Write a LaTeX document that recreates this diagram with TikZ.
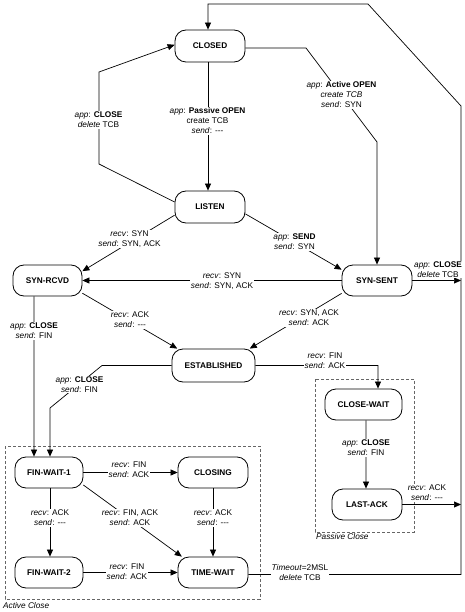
\documentclass[tikz,border=0pt]{standalone}
\usepackage{fontspec}
\setmainfont{Liberation Sans}
\usetikzlibrary{arrows.meta}
\begin{document}
\begin{tikzpicture}[x=1bp,y=-1bp,
  state/.style={draw, line width=0.8bp, rounded corners=11bp, font=\fontsize{8.3}{10}\selectfont\bfseries, inner sep=0pt, minimum width=70bp, minimum height=31bp},
  lbl/.style={fill=white, inner sep=0.8bp, align=center, font=\fontsize{8.3}{10}\selectfont},
  arr/.style={line width=0.7bp, -{Triangle[length=7bp,width=6bp]}},
  ln/.style={line width=0.7bp},
  grp/.style={draw=black!60, line width=0.6bp, dash pattern=on 3bp off 2bp},
  grpcaption/.style={font=\fontsize{8.3}{10}\selectfont\itshape, anchor=west, inner sep=0pt}
]
\useasboundingbox (0,0) rectangle (465,612);

% groups
\draw[grp] (5,446) rectangle (260,599);
\draw[grp] (315,379) rectangle (414,532);
\node[grpcaption] (capA) at (3,606) {Active Close};
\node[grpcaption] (capP) at (316,537) {Passive Close};

% states
\node[state, minimum height=32bp] (closed) at (210,46) {CLOSED};
\node[state, minimum height=32bp] (listen) at (210,207) {LISTEN};
\node[state, minimum width=69bp] (synrcvd) at (47.5,280.5) {SYN-RCVD};
\node[state] (synsent) at (377,280.5) {SYN-SENT};
\node[state, minimum width=83bp, minimum height=33bp] (estab) at (213.5,365.5) {ESTABLISHED};
\node[state, minimum width=77bp] (closewait) at (363.5,404.5) {CLOSE-WAIT};
\node[state] (lastack) at (367,504.5) {LAST-ACK};
\node[state, minimum width=68bp] (finwaitone) at (49,472.5) {FIN-WAIT-1};
\node[state] (closing) at (213,472.5) {CLOSING};
\node[state, minimum width=68bp] (finwaittwo) at (49,572.5) {FIN-WAIT-2};
\node[state] (timewait) at (213,572.5) {TIME-WAIT};

% rail coordinates
\coordinate (railA) at (461,280.5);
\coordinate (railB) at (461,504.5);

% connectors
\draw[arr] ([xshift=-2bp]closed.south) -- ([xshift=-2bp]listen.north);
\draw[arr] (listen.172) -- (99,164) -- (99,72) -- (closed.178);
\draw[arr] ([yshift=-2bp]closed.east) -- (306,48) -- (377,142) -- (synsent.north);
\draw[arr] (listen.193) -- (synrcvd.15);
\draw[arr] (listen.-11) -- (synsent.163);
\draw[arr] (synsent.west) -- (synrcvd.east);
\draw[arr] (synrcvd.-20) -- (estab.155);
\draw[arr] (synsent.200) -- (estab.25);
\draw[arr] (synsent.east) -- (railA);
\draw[arr] ([xshift=-13.5bp]synrcvd.south) -- ([xshift=-15bp]finwaitone.north);
\draw[arr] (estab.west) -- (102,365.5) -- (50,408) -- ([xshift=1bp]finwaitone.north);
\draw[arr] (estab.east) -- (378,365.5) -- ([xshift=14.5bp]closewait.north);
\draw[arr] ([xshift=2.5bp]closewait.south) -- ([xshift=-1bp]lastack.north);
\draw[arr] (lastack.east) -- (railB);
\draw[arr] (finwaitone.east) -- (closing.west);
\draw[arr] ([xshift=1bp]finwaitone.south) -- ([xshift=1bp]finwaittwo.north);
\draw[arr] (finwaitone.-20) -- (timewait.153);
\draw[arr] (closing.south) -- (timewait.north);
\draw[arr] (finwaittwo.east) -- (timewait.west);
\draw[arr] ([yshift=-2bp]timewait.east) -- (461,574.5) -- (461,106) -- (368,4) -- (208,4) -- ([xshift=-2bp]closed.north);

% labels
\node[lbl] (l1) at (98.5,120) {\emph{app}: \textbf{CLOSE}\\\emph{delete} TCB};
\node[lbl] (l2) at (207.5,121) {\emph{app}: \textbf{Passive OPEN}\\create TCB\\\emph{send}: -{}-{}-};
\node[lbl] (l3) at (341.5,95) {\emph{app}: \textbf{Active OPEN}\\\emph{create TCB}\\\emph{send}: SYN};
\node[lbl] (l4) at (129.5,239) {\emph{recv}: SYN\\\emph{send}: SYN, ACK};
\node[lbl] (l5) at (294.5,242) {\emph{app}: \textbf{SEND}\\\emph{send}: SYN};
\node[lbl] (l6) at (222,281.5) {\emph{recv}: SYN\\\emph{send}: SYN, ACK};
\node[lbl] (l7) at (130,320) {\emph{recv}: ACK\\\emph{send}: -{}-{}-};
\node[lbl] (l8) at (309,318) {\emph{recv}: SYN, ACK\\\emph{send}: ACK};
\node[lbl] (l9) at (438,269.5) {\emph{app}: \textbf{CLOSE}\\\emph{delete} TCB};
\node[lbl] (l10) at (34,331) {\emph{app}: \textbf{CLOSE}\\\emph{send}: FIN};
\node[lbl] (l11) at (79.5,384.5) {\emph{app}: \textbf{CLOSE}\\\emph{send}: FIN};
\node[lbl] (l12) at (325,361) {\emph{recv}: FIN\\\emph{send}: ACK};
\node[lbl] (l13) at (366,448) {\emph{app}: \textbf{CLOSE}\\\emph{send}: FIN};
\node[lbl] (l14) at (427,493) {\emph{recv}: ACK\\\emph{send}: -{}-{}-};
\node[lbl] (l15) at (129,470) {\emph{recv}: FIN\\\emph{send}: ACK};
\node[lbl] (l16) at (50,518) {\emph{recv}: ACK\\\emph{send}: -{}-{}-};
\node[lbl] (l17) at (130,518) {\emph{recv}: FIN, ACK\\\emph{send}: ACK};
\node[lbl] (l18) at (213,518) {\emph{recv}: ACK\\\emph{send}: -{}-{}-};
\node[lbl] (l19) at (127,571.5) {\emph{recv}: FIN\\\emph{send}: ACK};
\node[lbl] (l20) at (300,573) {\emph{Timeout}=2MSL\\\emph{delete} TCB};
\end{tikzpicture}
\end{document}
